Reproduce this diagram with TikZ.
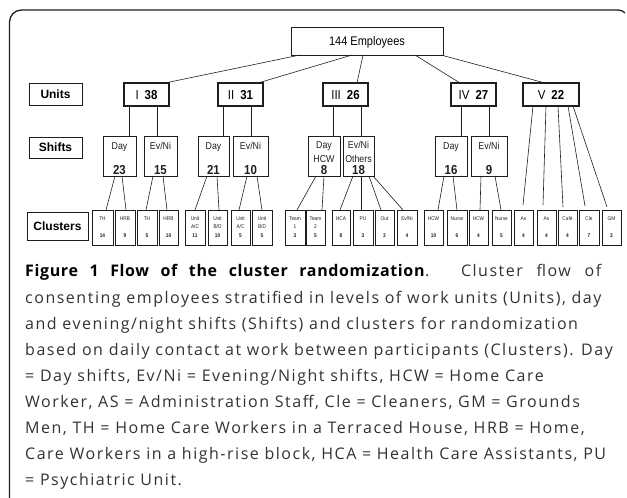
\documentclass[tikz,border=0pt]{standalone}
\usepackage{fontspec}
\setmainfont[LetterSpace=9.5]{Open Sans}
\newfontfamily\diag[FakeStretch=0.88]{Liberation Sans}
\newfontfamily\diagw{Liberation Sans}
\usetikzlibrary{calc}
\definecolor{captxt}{RGB}{50,50,50}
\definecolor{ink}{RGB}{30,30,30}
\newcommand\clu[6]{%
  \node[cbox, minimum width=#3pt] (#1) at (#2,227.5) {};
  \node[ctxt] (#1l) at ($(#1.north)+(0,10)$) {#4};
  \ifx\relax#5\relax\else\node[ctxt] (#1m) at ($(#1.north)+(0,18.5)$) {#5};\fi
  \node[cnum] (#1n) at ($(#1.north)+(0,27)$) {#6};}
\newcommand\shf[6]{%
  \node[sbox, minimum width=#3pt] (#1) at (#2,156) {};
  \node[stxt] (#1l) at ($(#1.north)+(0,13)$) {#4};
  \node[snum] (#1n) at ($(#1.south)+(0,-2)$) {#6};}
\begin{document}
\begin{tikzpicture}[x=1pt,y=-1pt,
 box/.style={draw=ink, line width=0.8pt, inner sep=0pt, outer sep=0pt},
 ubox/.style={box, line width=1.1pt, minimum height=23pt, font=\diag\fontsize{13}{13}\selectfont, text depth=0pt},
 lbox/.style={box, line width=0.9pt, font=\diagw\bfseries\fontsize{12}{12}\selectfont, text depth=0pt},
 sbox/.style={box, minimum height=40pt},
 cbox/.style={box, line width=0.9pt, minimum height=35pt},
 stxt/.style={anchor=base, inner sep=0pt, font=\diag\fontsize{10}{10}\selectfont, text=ink},
 snum/.style={anchor=base, inner sep=0pt, font=\diag\bfseries\fontsize{13}{13}\selectfont, text=ink},
 ctxt/.style={anchor=base, inner sep=0pt, font=\diag\fontsize{5.4}{5.4}\selectfont, text=ink},
 cnum/.style={ctxt, font=\diag\bfseries\fontsize{5.4}{5.4}\selectfont},
 conn/.style={draw=ink, line width=0.6pt},
 captext/.style={anchor=base west, inner sep=0pt, font=\fontsize{16}{16}\selectfont, text=captxt}]
\useasboundingbox (0,0) rectangle (627,498);
% frame
\draw[ink, line width=1.3pt] (9.5,498) -- (9.5,22) arc[start angle=180,end angle=90,radius=12pt] -- (618,10) arc[start angle=90,end angle=45,radius=10pt];
% top
\node[box, minimum width=152pt, minimum height=28pt, font=\diag\fontsize{12.5}{12.5}\selectfont, text depth=0pt] (emp) at (367,41) {144 Employees};
% row labels
\node[lbox, minimum width=53pt, minimum height=22pt] (lunits) at (55.5,94) {Units};
\node[lbox, minimum width=53pt, minimum height=21pt] (lshifts) at (55.5,147.5) {Shifts};
\node[lbox, minimum width=61pt, minimum height=28pt] (lclus) at (57.5,226) {Clusters};
% units
\node[ubox, minimum width=45pt] (u1) at (146.5,94.5) {I\hspace{6pt}\textbf{38}};
\node[ubox, minimum width=45pt] (u2) at (240.5,94.5) {II\hspace{6pt}\textbf{31}};
\node[ubox, minimum width=45pt] (u3) at (345.5,94.5) {III\hspace{6pt}\textbf{26}};
\node[ubox, minimum width=45pt] (u4) at (473.5,94.5) {IV\hspace{6pt}\textbf{27}};
\node[ubox, minimum width=56pt] (u5) at (551,94.5) {V\hspace{6pt}\textbf{22}};
% shifts
\shf{s1a}{119.5}{33}{Day}{}{23}
\shf{s1b}{160.5}{33}{Ev/Ni}{}{15}
\shf{s2a}{213.5}{31}{Day}{}{21}
\shf{s2b}{250.5}{35}{Ev/Ni}{}{10}
\node[sbox, minimum width=32pt] (s3a) at (324,156) {};
\node[stxt] (s3al) at ($(s3a.north)+(0,12)$) {Day};
\node[stxt] (s3am) at ($(s3a.north)+(0,26)$) {HCW};
\node[snum] (s3an) at ($(s3a.south)+(0,-2)$) {8};
\node[sbox, minimum width=31pt] (s3b) at (358.5,156) {};
\node[stxt] (s3bl) at ($(s3b.north)+(0,12)$) {Ev/Ni};
\node[stxt] (s3bm) at ($(s3b.north)+(0,26)$) {Others};
\node[snum] (s3bn) at ($(s3b.south)+(0,-2)$) {18};
\shf{s4a}{451}{32}{Day}{}{16}
\shf{s4b}{489}{36}{Ev/Ni}{}{9}
% clusters
\clu{c1}{102.5}{21}{TH}{}{14}
\clu{c2}{125}{20}{HRB}{}{9}
\clu{c3}{147}{20}{TH}{}{5}
\clu{c4}{168.5}{19}{HRB}{}{10}
\clu{c5}{195}{20}{Unit}{A/C}{11}
\clu{c6}{217.5}{19}{Unit}{B/D}{10}
\clu{c7}{240.5}{19}{Unit}{A/C}{5}
\clu{c8}{262}{20}{Unit}{B/D}{5}
\clu{c9}{295}{20}{Team}{1}{3}
\clu{c10}{315.5}{19}{Team}{2}{5}
\clu{c11}{341}{18}{HCA}{}{8}
\clu{c12}{363}{20}{PU}{}{3}
\clu{c13}{384.5}{19}{Out}{}{3}
\clu{c14}{407}{20}{Ev/Ni}{}{4}
\clu{c15}{433.5}{19}{HCW}{}{10}
\clu{c16}{457}{20}{Nurse}{}{6}
\clu{c17}{478.5}{19}{HCW}{}{4}
\clu{c18}{501.5}{19}{Nurse}{}{5}
\clu{c19}{523.5}{19}{As}{}{4}
\clu{c20}{546.5}{19}{As}{}{4}
\clu{c21}{567.5}{19}{Café}{}{4}
\clu{c22}{589}{20}{Cle}{}{7}
\clu{c23}{611.5}{19}{GM}{}{3}
% connectors: employees -> units
\draw[conn] ($(emp.south west)+(9,0)$) -- ($(u1.north west)+(41,0)$);
\draw[conn] ($(emp.south west)+(61,0)$) -- ($(u2.north west)+(40,0)$);
\draw[conn] ($(emp.south west)+(72,0)$) -- ($(u3.north west)+(34,0)$);
\draw[conn] ($(emp.south west)+(124,0)$) -- ($(u4.north west)+(9,0)$);
\draw[conn] ($(emp.south east)+(-2,0)$) -- ($(u5.north west)+(22,0)$);
% units -> shifts
\draw[conn] ($(u1.south west)+(5,0)$) -- ($(s1a.north west)+(26,0)$);
\draw[conn] ($(u1.south west)+(33,0)$) -- ($(s1b.north west)+(13,0)$);
\draw[conn] ($(u2.south west)+(5,0)$) -- ($(s2a.north west)+(25,0)$);
\draw[conn] ($(u2.south west)+(33,0)$) -- ($(s2b.north west)+(18,0)$);
\draw[conn] ($(u3.south west)+(10,0)$) -- ($(s3a.north west)+(25,0)$);
\draw[conn] ($(u3.south west)+(38,0)$) -- ($(s3b.north west)+(18,0)$);
\draw[conn] ($(u4.south west)+(10,0)$) -- ($(s4a.north west)+(26,0)$);
\draw[conn] ($(u4.south west)+(38,0)$) -- ($(s4b.north west)+(18,0)$);
% shifts -> clusters
\draw[conn] ($(s1a.south west)+(12,0)$) -- ($(c1.north west)+(14,0)$);
\draw[conn] ($(s1a.south west)+(19,0)$) -- ($(c2.north west)+(11,0)$);
\draw[conn] ($(s1b.south west)+(9,0)$) -- ($(c3.north west)+(9,0)$);
\draw[conn] ($(s1b.south west)+(19,0)$) -- ($(c4.north west)+(8,0)$);
\draw[conn] ($(s2a.south west)+(9,0)$) -- ($(c5.north west)+(10,0)$);
\draw[conn] ($(s2a.south west)+(19,0)$) -- ($(c6.north west)+(11,0)$);
\draw[conn] ($(s2b.south west)+(14,0)$) -- ($(c7.north west)+(8,0)$);
\draw[conn] ($(s2b.south west)+(24,0)$) -- ($(c8.north west)+(10,0)$);
\draw[conn] ($(s3a.south west)+(8,0)$) -- ($(c9.north west)+(12,0)$);
\draw[conn] ($(s3a.south west)+(16,0)$) -- ($(c10.north west)+(16,0)$);
\draw[conn] ($(s3b.south west)+(10,0)$) -- ($(c11.north west)+(8,0)$);
\draw[conn] ($(s3b.south west)+(18,0)$) -- ($(c12.north west)+(8,0)$);
\draw[conn] ($(s3b.south west)+(26,0)$) -- ($(c13.north west)+(6,0)$);
\draw[conn] ($(s3b.south east)+(-1,0)$) -- ($(c14.north west)+(6,0)$);
\draw[conn] ($(s4a.south west)+(9,0)$) -- ($(c15.north west)+(14,0)$);
\draw[conn] ($(s4a.south west)+(18,0)$) -- ($(c16.north west)+(10,0)$);
\draw[conn] ($(s4b.south west)+(10,0)$) -- ($(c17.north west)+(11,0)$);
\draw[conn] ($(s4b.south west)+(24,0)$) -- ($(c18.north west)+(9,0)$);
% unit V -> clusters
\draw[conn] ($(u5.south west)+(10,0)$) -- ($(c19.north west)+(9,-5)$);
\draw[conn] ($(u5.south west)+(23,0)$) -- ($(c20.north west)+(6,-5)$);
\draw[conn] ($(u5.south west)+(35,0)$) -- ($(c21.north west)+(5,-3)$);
\draw[conn] ($(u5.south west)+(45,0)$) -- ($(c22.north west)+(6,-4)$);
\draw[conn] ($(u5.south west)+(50,0)$) -- ($(c23.north west)+(5,-3)$);
% caption
\node[captext] (cap1) at (25,276) {\makebox[576pt][s]{\textcolor{black}{\addfontfeature{LetterSpace=4}\textbf{Figure 1 Flow of the cluster randomization}}. Cluster flow of}};
\node[captext] (cap2) at (25,303.5) {consenting employees stratified in levels of work units (Units), day};
\node[captext] (cap3) at (25,329.5) {and evening/night shifts (Shifts) and clusters for randomization};
\node[captext] (cap4) at (25,355.4) {based on daily contact at work between participants (Clusters). Day};
\node[captext] (cap5) at (25,381.4) {= Day shifts, Ev/Ni = Evening/Night shifts, HCW = Home Care};
\node[captext] (cap6) at (25,407.3) {Worker, AS = Administration Staff, Cle = Cleaners, GM = Grounds};
\node[captext] (cap7) at (25,433.3) {Men, TH = Home Care Workers in a Terraced House, HRB = Home,};
\node[captext] (cap8) at (25,459.2) {Care Workers in a high-rise block, HCA = Health Care Assistants, PU};
\node[captext] (cap9) at (25,485.2) {= Psychiatric Unit.};
\end{tikzpicture}
\end{document}
